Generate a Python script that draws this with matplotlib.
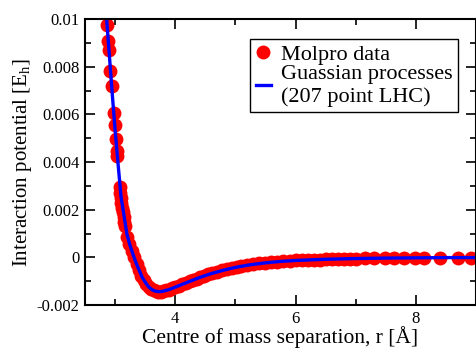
import matplotlib
matplotlib.use("Agg")
import matplotlib.pyplot as plt
from matplotlib.ticker import MultipleLocator

plt.rcParams["font.family"] = ["Liberation Serif", "DejaVu Serif"]
plt.rcParams["mathtext.fontset"] = "custom"
plt.rcParams["mathtext.rm"] = "Liberation Serif"

# Molpro ab initio points (r in Angstrom, energy in Hartree)
molpro_r = [2.865, 2.886, 2.898, 2.925, 2.944, 2.981, 2.996, 3.015, 3.031, 3.036,
            3.078, 3.088, 3.098, 3.108, 3.118, 3.130, 3.142, 3.155, 3.168,
            3.20, 3.24, 3.28, 3.32, 3.36, 3.40, 3.44, 3.48, 3.52, 3.56,
            3.60, 3.64, 3.68, 3.72, 3.76, 3.80, 3.85, 3.90, 3.95, 4.00,
            4.06, 4.12, 4.18, 4.24, 4.30, 4.36, 4.42, 4.48, 4.55, 4.62,
            4.70, 4.78, 4.86, 4.94, 5.02, 5.10, 5.20, 5.30, 5.40, 5.50,
            5.60, 5.70, 5.80, 5.90, 6.00, 6.10, 6.20, 6.30, 6.40, 6.50,
            6.60, 6.70, 6.80, 6.90, 7.00, 7.15, 7.30, 7.48, 7.64, 7.81,
            7.98, 8.14, 8.40, 8.70, 8.92]
molpro_e = [0.00974, 0.00908, 0.00869, 0.00781, 0.00721, 0.00604, 0.00555, 0.00495, 0.00446, 0.00426,
            0.00296, 0.00272, 0.00250, 0.00229, 0.00209, 0.00189, 0.00170, 0.00150, 0.00130,
            0.00085, 0.00055, 0.00027, 0.00002, -0.00029, -0.00053, -0.00077, -0.00096, -0.00112, -0.00125,
            -0.00134, -0.00139, -0.00143, -0.00144, -0.00144, -0.00142, -0.00139, -0.00135, -0.00130, -0.00125,
            -0.00119, -0.00113, -0.00107, -0.00101, -0.00095, -0.00089, -0.00083, -0.00077, -0.00071, -0.00065,
            -0.00060, -0.00055, -0.00050, -0.00045, -0.00041, -0.00037, -0.00033, -0.00029, -0.00025, -0.00022,
            -0.00020, -0.00018, -0.00016, -0.00015, -0.00013, -0.00012, -0.00011, -0.00010, -0.00009, -0.00008,
            -0.00007, -0.00006, -0.00006, -0.00005, -0.00005, -0.00004, -0.00004, -0.00003, -0.00003, -0.00002,
            -0.00002, -0.00002, -0.00001, -0.00001, -0.00001]

# Gaussian process fit
gp_r = [2.855, 2.90, 2.95, 3.00, 3.05, 3.10, 3.15, 3.20, 3.25, 3.30, 3.35, 3.40,
        3.45, 3.50, 3.55, 3.60, 3.65, 3.70, 3.75, 3.80, 3.90, 4.00, 4.10, 4.20,
        4.30, 4.40, 4.60, 4.80, 5.00, 5.25, 5.50, 5.75, 6.00, 6.50, 7.00, 7.50,
        8.00, 8.50, 9.00]
gp_e = [0.01020, 0.00870, 0.00700, 0.00540, 0.00395, 0.00255, 0.00175, 0.00095, 0.00050,
        0.00012, -0.00023, -0.00053, -0.00083, -0.00103, -0.00121, -0.00133, -0.00140,
        -0.00143, -0.00144, -0.00142, -0.00135, -0.00125, -0.00115, -0.00105, -0.00095,
        -0.00085, -0.00068, -0.00054, -0.00042, -0.00031, -0.00023, -0.00017, -0.00013,
        -0.00008, -0.00005, -0.00003, -0.00002, -0.00001, -0.00001]

fig = plt.figure(figsize=(4.77, 3.49), dpi=100)
ax = fig.add_axes([0.178, 0.126, 0.820, 0.8195])

ax.plot(molpro_r, molpro_e, "o", color="red", markersize=10, markeredgewidth=0,
        label="Molpro data")
ax.plot(gp_r, gp_e, "-", color="blue", linewidth=2.4,
        label="Guassian processes\n(207 point LHC)")

ax.set_xlim(2.5, 9)
ax.set_ylim(-0.002, 0.01)
ax.xaxis.set_minor_locator(MultipleLocator(1))
ax.yaxis.set_minor_locator(MultipleLocator(0.001))
ax.set_xticks([4, 6, 8])
ax.set_xticklabels(["4", "6", "8"])
ax.set_yticks([-0.002, 0, 0.002, 0.004, 0.006, 0.008, 0.01])
ax.set_yticklabels(["-0.002", "0", "0.002", "0.004", "0.006", "0.008", "0.01"])

ax.tick_params(which="both", direction="in", top=True, right=True, labelsize=12, width=1.2)
ax.tick_params(which="major", length=7, pad=4)
ax.tick_params(which="minor", length=4)
for s in ax.spines.values():
    s.set_linewidth(1.5)

ax.set_xlabel("Centre of mass separation, r [Å]", fontsize=15.5, labelpad=0)
ax.set_ylabel(r"Interaction potential [E$_{\mathrm{h}}$]", fontsize=15, labelpad=2)

leg = ax.legend(loc="upper right", bbox_to_anchor=(0.955, 0.93), borderaxespad=0,
                fontsize=16, fancybox=False, framealpha=1, edgecolor="black",
                handlelength=0.7, handletextpad=0.45, labelspacing=0.0,
                borderpad=0.25)
leg.get_frame().set_linewidth(1.0)

fig.savefig("out.png", dpi=100)
